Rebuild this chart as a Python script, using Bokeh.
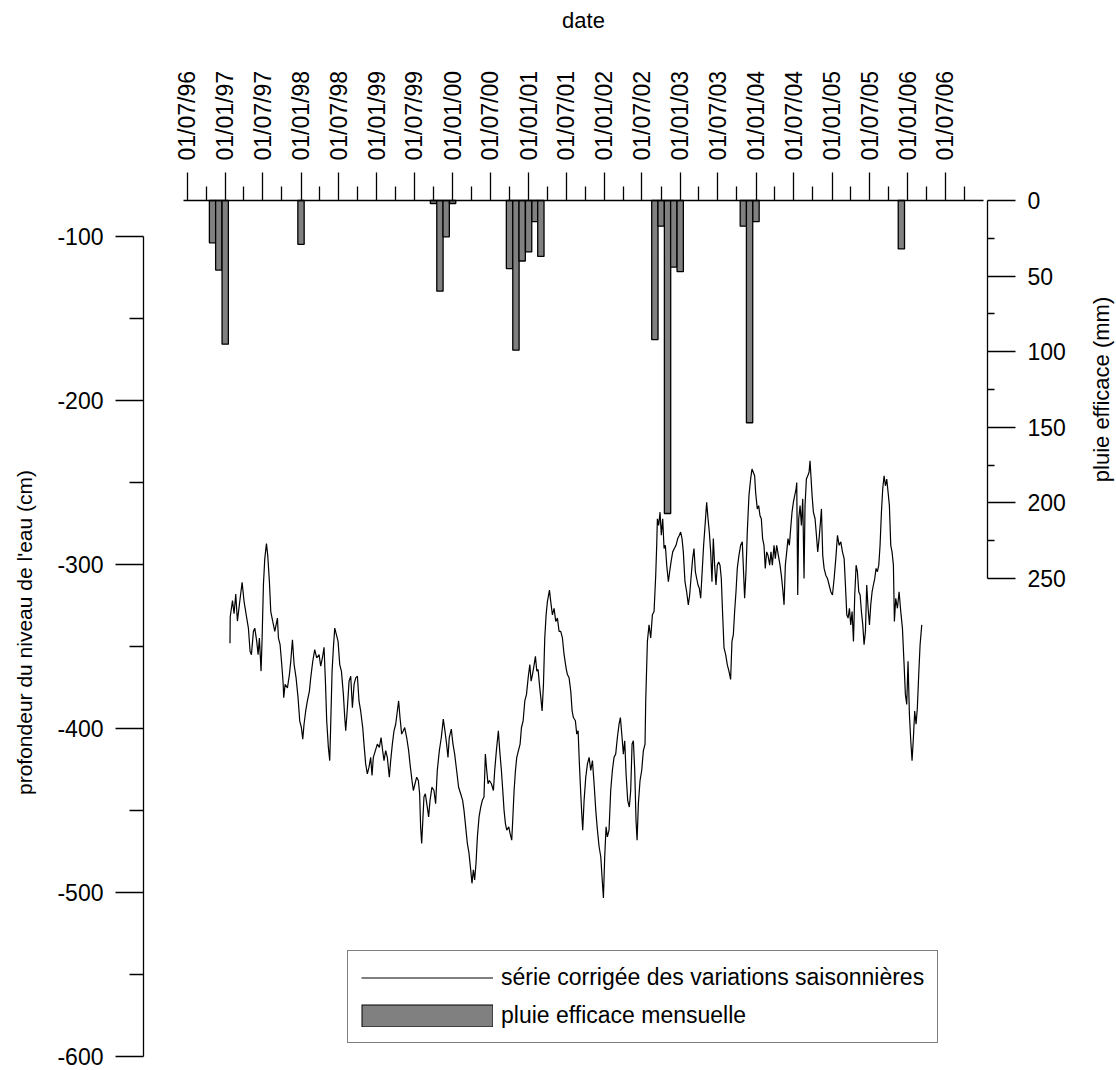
import math
from datetime import datetime, timedelta

from bokeh.embed import file_html
from bokeh.models import (ColumnDataSource, DatetimeAxis, DatetimeTickFormatter, FixedTicker,
                          Label, Legend, LegendItem, LinearAxis, Range1d)
from bokeh.plotting import figure
from bokeh.resources import INLINE

# --- water level, seasonally adjusted (decimal year, depth in cm) ---
level_year = [
    1997.063, 1997.066, 1997.096, 1997.117, 1997.139, 1997.161, 1997.197, 1997.223, 1997.249, 1997.284,
    1997.306, 1997.328, 1997.346, 1997.372, 1997.390, 1997.416, 1997.434, 1997.451, 1997.473, 1997.487,
    1997.504, 1997.522, 1997.544, 1997.561, 1997.583, 1997.601, 1997.627, 1997.654, 1997.671, 1997.689,
    1997.702, 1997.724, 1997.746, 1997.764, 1997.772, 1997.790, 1997.821, 1997.847, 1997.865, 1997.887,
    1997.909, 1997.935, 1997.961, 1997.983, 1998.005, 1998.023, 1998.040, 1998.062, 1998.084, 1998.111,
    1998.128, 1998.155, 1998.181, 1998.207, 1998.238, 1998.260, 1998.282, 1998.304, 1998.322, 1998.339,
    1998.361, 1998.379, 1998.392, 1998.410, 1998.427, 1998.445, 1998.467, 1998.489, 1998.511, 1998.533,
    1998.559, 1998.577, 1998.590, 1998.612, 1998.634, 1998.656, 1998.678, 1998.700, 1998.722, 1998.744,
    1998.765, 1998.787, 1998.814, 1998.831, 1998.853, 1998.875, 1998.897, 1998.919, 1998.937, 1998.954,
    1998.981, 1999.007, 1999.034, 1999.056, 1999.077, 1999.095, 1999.117, 1999.139, 1999.165, 1999.183,
    1999.205, 1999.227, 1999.249, 1999.271, 1999.288, 1999.306, 1999.328, 1999.350, 1999.368, 1999.394,
    1999.420, 1999.438, 1999.464, 1999.482, 1999.504, 1999.526, 1999.548, 1999.565, 1999.578, 1999.592,
    1999.605, 1999.622, 1999.640, 1999.666, 1999.684, 1999.702, 1999.728, 1999.754, 1999.776, 1999.798,
    1999.825, 1999.851, 1999.877, 1999.899, 1999.921, 1999.939, 1999.956, 1999.983, 2000.005, 2000.027,
    2000.053, 2000.079, 2000.106, 2000.132, 2000.150, 2000.172, 2000.194, 2000.216, 2000.238, 2000.255,
    2000.273, 2000.290, 2000.308, 2000.326, 2000.348, 2000.370, 2000.391, 2000.413, 2000.431, 2000.449,
    2000.466, 2000.484, 2000.510, 2000.537, 2000.554, 2000.576, 2000.602, 2000.620, 2000.642, 2000.660,
    2000.677, 2000.695, 2000.712, 2000.739, 2000.756, 2000.778, 2000.791, 2000.809, 2000.827, 2000.844,
    2000.866, 2000.888, 2000.906, 2000.928, 2000.950, 2000.972, 2000.994, 2001.016, 2001.033, 2001.051,
    2001.073, 2001.090, 2001.108, 2001.125, 2001.143, 2001.161, 2001.178, 2001.196, 2001.213, 2001.231,
    2001.248, 2001.275, 2001.292, 2001.314, 2001.336, 2001.358, 2001.380, 2001.402, 2001.424, 2001.446,
    2001.468, 2001.494, 2001.512, 2001.534, 2001.556, 2001.574, 2001.591, 2001.617, 2001.635, 2001.653,
    2001.670, 2001.688, 2001.701, 2001.714, 2001.732, 2001.754, 2001.776, 2001.798, 2001.820, 2001.842,
    2001.864, 2001.886, 2001.908, 2001.930, 2001.952, 2001.974, 2001.987, 2002.004, 2002.022, 2002.039,
    2002.061, 2002.083, 2002.105, 2002.127, 2002.149, 2002.171, 2002.193, 2002.211, 2002.233, 2002.250,
    2002.268, 2002.286, 2002.307, 2002.329, 2002.347, 2002.365, 2002.382, 2002.400, 2002.417, 2002.431,
    2002.448, 2002.470, 2002.492, 2002.514, 2002.536, 2002.545, 2002.567, 2002.589, 2002.611, 2002.633,
    2002.655, 2002.677, 2002.690, 2002.699, 2002.716, 2002.734, 2002.751, 2002.769, 2002.787, 2002.804,
    2002.822, 2002.844, 2002.861, 2002.879, 2002.901, 2002.923, 2002.945, 2002.967, 2002.989, 2003.006,
    2003.024, 2003.041, 2003.063, 2003.085, 2003.107, 2003.125, 2003.142, 2003.164, 2003.182, 2003.200,
    2003.217, 2003.235, 2003.252, 2003.270, 2003.292, 2003.309, 2003.331, 2003.349, 2003.367, 2003.384,
    2003.402, 2003.419, 2003.437, 2003.454, 2003.472, 2003.490, 2003.507, 2003.525, 2003.542, 2003.560,
    2003.578, 2003.600, 2003.621, 2003.643, 2003.665, 2003.683, 2003.701, 2003.718, 2003.736, 2003.753,
    2003.775, 2003.797, 2003.819, 2003.832, 2003.850, 2003.868, 2003.885, 2003.907, 2003.929, 2003.947,
    2003.964, 2003.982, 2003.995, 2004.017, 2004.035, 2004.052, 2004.070, 2004.087, 2004.105, 2004.122,
    2004.140, 2004.158, 2004.180, 2004.197, 2004.215, 2004.237, 2004.254, 2004.272, 2004.294, 2004.316,
    2004.333, 2004.355, 2004.369, 2004.386, 2004.404, 2004.421, 2004.439, 2004.456, 2004.474, 2004.492,
    2004.509, 2004.527, 2004.536, 2004.549, 2004.562, 2004.580, 2004.597, 2004.615, 2004.632, 2004.645,
    2004.663, 2004.681, 2004.698, 2004.711, 2004.725, 2004.738, 2004.755, 2004.777, 2004.795, 2004.812,
    2004.830, 2004.848, 2004.861, 2004.878, 2004.896, 2004.918, 2004.940, 2004.962, 2004.984, 2005.006,
    2005.028, 2005.050, 2005.072, 2005.094, 2005.116, 2005.138, 2005.160, 2005.177, 2005.195, 2005.212,
    2005.230, 2005.247, 2005.265, 2005.283, 2005.300, 2005.318, 2005.335, 2005.353, 2005.371, 2005.388,
    2005.406, 2005.423, 2005.441, 2005.458, 2005.476, 2005.494, 2005.511, 2005.529, 2005.546, 2005.564,
    2005.581, 2005.599, 2005.617, 2005.634, 2005.652, 2005.669, 2005.687, 2005.705, 2005.722, 2005.740,
    2005.757, 2005.775, 2005.792, 2005.810, 2005.823, 2005.841, 2005.863, 2005.885, 2005.907, 2005.929,
    2005.951, 2005.968, 2005.986, 2006.003, 2006.021, 2006.039, 2006.056, 2006.074, 2006.091, 2006.109,
    2006.126, 2006.144, 2006.162, 2006.184,
]
level_cm = [
    -348, -332, -322, -330, -318, -334.5, -320.6, -310.9, -322.6, -332.7,
    -338.8, -352.9, -355, -340.8, -338.8, -346.9, -355, -344.8, -365, -344.8,
    -312.5, -296.4, -287.3, -294.4, -310.5, -328.7, -334.7, -340.8, -336.8, -332.7,
    -344.8, -348.9, -361, -372.1, -381.2, -373.1, -375.2, -367.1, -359, -345.9,
    -361, -369.1, -381.2, -395.3, -399.4, -406.5, -397.4, -389.3, -383.2, -377.2,
    -369.1, -359, -351.9, -357, -355, -362, -357, -350.5, -371.1, -395.3,
    -411.5, -419.6, -397.4, -365, -350.9, -338.8, -342.8, -346.9, -361, -365,
    -379.2, -393.3, -401.4, -387.3, -371.1, -368.1, -387.3, -373.1, -369.1, -368.1,
    -383.2, -389.3, -399.4, -409.5, -421.6, -427.7, -423.6, -417.6, -428.7, -417.6,
    -413.5, -409.5, -411.5, -405.5, -413.5, -419.6, -413.5, -417.6, -429.7, -419.6,
    -409.5, -401.4, -397.4, -389.3, -383.2, -393.3, -403.4, -401.4, -399.4, -405.5,
    -413.5, -421.6, -431.7, -437.8, -433.7, -429.7, -431.7, -439.8, -460, -470.1,
    -458, -441.8, -439.8, -447.9, -453.9, -443.8, -435.8, -437.8, -445.9, -425.6,
    -413.5, -405.5, -394.3, -401.4, -409.5, -417.6, -405.5, -400.4, -409.5, -415.6,
    -425.6, -435.8, -439.8, -443.8, -449.9, -460, -470.1, -476.2, -486.2, -494.4,
    -486.2, -492.3, -482.2, -466.1, -453.9, -447.9, -443.8, -441.8, -415.6, -425.6,
    -433.7, -431.7, -433.7, -437.8, -425.6, -413.5, -401.4, -413.5, -425.6, -437.8,
    -449.9, -458, -462, -460, -464, -468.1, -456, -437.8, -425.6, -417.6,
    -413.5, -409.5, -399.4, -395.3, -383.2, -379.2, -369.1, -361, -371.1, -367.1,
    -361, -356, -365, -364, -373.1, -381.2, -389.3, -373.1, -344.8, -330.7,
    -322.6, -315.6, -322.6, -330.7, -326.7, -334.7, -332.7, -340.8, -340.8, -344.8,
    -355, -363, -367.1, -369.1, -377.2, -389.3, -393.3, -395.3, -403.4, -401.4,
    -421.6, -439.8, -451.9, -462, -443.8, -429.7, -421.6, -417.6, -425.6, -419.6,
    -433.7, -449.9, -462, -472.1, -478.2, -494.4, -503.4, -478.2, -460, -466.1,
    -462, -437.8, -425.6, -417.6, -415.6, -405.5, -397.4, -393.3, -405.5, -415.6,
    -407.5, -427.7, -443.8, -447.9, -437.8, -409.5, -407.5, -425.6, -456, -468.1,
    -445.9, -431.7, -425.6, -413.5, -409.5, -383.2, -346.9, -336.8, -344.8, -330.7,
    -328.7, -306.5, -288.3, -272.1, -276.2, -268.1, -282.2, -272.1, -290.3, -288.3,
    -300.4, -310.5, -304.4, -298.4, -292.3, -290.3, -288.3, -284.2, -282.2, -280.2,
    -284.2, -292.3, -310.5, -316.6, -324.6, -318.6, -308.5, -296.4, -290.3, -304.4,
    -308.5, -312.5, -314.5, -320.6, -302.4, -288.3, -274.1, -262, -272.1, -280.2,
    -292.3, -310.5, -284.2, -300.4, -312.5, -300.4, -298.4, -300.4, -308.5, -330.7,
    -350.9, -355, -361, -365, -370.1, -346.9, -342.8, -328.7, -316.6, -302.4,
    -294.4, -288.3, -286.2, -300.4, -320.6, -304.4, -280.2, -258, -247.9, -241.8,
    -243.8, -245.9, -256, -266.1, -264.1, -270.1, -272.1, -284.2, -288.3, -302.4,
    -292.3, -294.4, -300.4, -292.3, -300.4, -288.3, -296.4, -288.3, -294.4, -300.4,
    -306.5, -316.6, -324.6, -300.4, -292.3, -284.2, -288.3, -278.2, -268.1, -262,
    -258, -254, -250, -318.6, -272.1, -264.1, -276.2, -260, -308.5, -264.1,
    -247.9, -245.9, -243.8, -236.8, -247.9, -258, -268.1, -272.1, -282.2, -292.3,
    -284.2, -274.1, -266.1, -294.4, -302.4, -306.5, -308.5, -312.5, -316.6, -318.6,
    -308.5, -296.4, -282.2, -288.3, -286.2, -292.3, -296.4, -312.5, -330.7, -332.7,
    -326.7, -336.8, -328.7, -346.9, -318.6, -300.4, -304.4, -316.6, -318.6, -328.7,
    -336.8, -348.9, -340.8, -312.5, -326.7, -336.8, -324.6, -316.6, -312.5, -308.5,
    -302.4, -304.4, -300.4, -288.3, -268.1, -254, -245.9, -252, -247.9, -256,
    -264.1, -288.3, -292.3, -300.4, -334.7, -320.6, -326.7, -316.6, -328.7, -338.8,
    -361, -379.2, -385.3, -359, -391.3, -407.5, -419.6, -405.5, -389.3, -397.4,
    -387.3, -367.1, -348.9, -336.8,
]

# --- monthly effective rainfall (month, mm) ---
rain_month = [
    "1996-11", "1996-12", "1997-01", "1998-01",
    "1999-10", "1999-11", "1999-12", "2000-01",
    "2000-10", "2000-11", "2000-12", "2001-01", "2001-02", "2001-03",
    "2002-09", "2002-10", "2002-11", "2002-12", "2003-01",
    "2003-11", "2003-12", "2004-01", "2005-12",
]
rain_mm = [
    28, 46, 95, 29,
    2, 60, 24, 2,
    45, 99, 40, 34, 14, 37,
    92, 17, 207, 44, 47,
    17, 147, 14, 32,
]

# --- axis ticks ---
date_tick_labels = [
    "01/07/96", "01/01/97", "01/07/97", "01/01/98", "01/07/98", "01/01/99", "01/07/99",
    "01/01/00", "01/07/00", "01/01/01", "01/07/01", "01/01/02", "01/07/02", "01/01/03",
    "01/07/03", "01/01/04", "01/07/04", "01/01/05", "01/07/05", "01/01/06", "01/07/06",
]
date_minor_labels = [
    "01/10/96", "01/04/97", "01/10/97", "01/04/98", "01/10/98", "01/04/99", "01/10/99",
    "01/04/00", "01/10/00", "01/04/01", "01/10/01", "01/04/02", "01/10/02", "01/04/03",
    "01/10/03", "01/04/04", "01/10/04", "01/04/05", "01/10/05", "01/04/06", "01/10/06",
]
depth_ticks = [-600, -500, -400, -300, -200, -100]
depth_minor = [-550, -450, -350, -250, -150]
rain_ticks = [0, 50, 100, 150, 200, 250]
rain_minor = [25, 75, 125, 175, 225]

FONT = "Liberation Sans"
DAY_MS = 24 * 3600 * 1000
BAR_GREY = "#808080"
W, H = 1116, 1070

# --- page geometry: the plot area covers the whole page, axes sit at fixed spots ---
PX_PER_YEAR = 75.85                       # horizontal scale of the date axis
X_ORIGIN = datetime(1996, 7, 1) - timedelta(days=365.25 * 186.5 / PX_PER_YEAR)
PX_PER_CM = 1.64                          # depth scale (left axis)
PX_PER_MM = 1.512                         # rainfall scale (right axis)
AXIS_LEFT_PX, AXIS_RIGHT_PX, AXIS_TOP_PX = 143, 987, 200


def x_at(px):
    return X_ORIGIN + timedelta(days=365.25 * px / PX_PER_YEAR)


def depth_at(py):
    return -100 - (py - 236) / PX_PER_CM


def rain_at(py):
    return (py - AXIS_TOP_PX) / PX_PER_MM


def from_decimal_year(y):
    yr = int(y)
    start, end = datetime(yr, 1, 1), datetime(yr + 1, 1, 1)
    return start + (end - start) * (y - yr)


def to_ms(d):
    return (d - datetime(1970, 1, 1)).total_seconds() * 1000.0


level_dates = [from_decimal_year(y) for y in level_year]
level_src = ColumnDataSource(data=dict(date=level_dates, depth=level_cm))
rain_src = ColumnDataSource(data=dict(
    date=[datetime.strptime(m + "-01", "%Y-%m-%d") for m in rain_month], mm=rain_mm))

p = figure(
    width=W, height=H,
    x_range=Range1d(x_at(0), x_at(W)),
    y_range=Range1d(depth_at(H), depth_at(0)),
    x_axis_type=None, y_axis_type=None,
    output_backend="svg", toolbar_location=None, min_border=0,
)
p.outline_line_color = None
p.background_fill_color = "white"
p.border_fill_color = "white"

p.extra_y_ranges = {"rain": Range1d(start=rain_at(H), end=rain_at(0))}

# rainfall bars hanging from the top axis
bars = p.vbar(x="date", width=30.4 * DAY_MS, bottom=0, top="mm", y_range_name="rain",
              source=rain_src, fill_color=BAR_GREY, line_color="black", line_width=1.3)
# water level series
line = p.line(x="date", y="depth", source=level_src, line_color="black", line_width=1.2)

# legend swatch for the bars: a framed grey block as wide as the line sample
one_date, one_depth = level_dates[:1], level_cm[:1]
swatch_edge = p.line(x=one_date, y=one_depth, line_color="black", line_width=23,
                     line_cap="butt")
swatch_fill = p.line(x=one_date, y=one_depth, line_color=BAR_GREY, line_width=21,
                     line_cap="butt", line_dash="0 1 130 1")


def style_axis(ax):
    ax.axis_line_color = "black"
    ax.axis_line_width = 1.3
    ax.major_tick_line_color = "black"
    ax.major_tick_line_width = 1.3
    ax.minor_tick_line_color = "black"
    ax.minor_tick_line_width = 1.3
    ax.major_tick_in = 0
    ax.minor_tick_in = 0
    ax.major_tick_out = 28
    ax.minor_tick_out = 14
    ax.major_label_text_font = FONT
    ax.major_label_text_font_size = "23px"
    ax.major_label_text_color = "black"
    ax.major_label_standoff = 12


# date axis on top
fmt = "%d/%m/%y"
xax = DatetimeAxis(
    ticker=FixedTicker(
        ticks=[to_ms(datetime.strptime(s, "%d/%m/%y")) for s in date_tick_labels],
        minor_ticks=[to_ms(datetime.strptime(s, "%d/%m/%y")) for s in date_minor_labels]),
    formatter=DatetimeTickFormatter(days=fmt, months=fmt, years=fmt, hours=fmt,
                                    hourmin=fmt, minutes=fmt, context=None),
    fixed_location=depth_at(AXIS_TOP_PX),
    bounds=(x_at(183), x_at(983)),
)
style_axis(xax)
xax.major_label_orientation = math.pi / 2
p.add_layout(xax, "above")

# depth axis on the left
yax = LinearAxis(
    ticker=FixedTicker(ticks=depth_ticks, minor_ticks=depth_minor),
    major_label_overrides={t: str(t) for t in depth_ticks},
    fixed_location=to_ms(x_at(AXIS_LEFT_PX)),
    bounds=(-600, -100),
)
style_axis(yax)
p.add_layout(yax, "left")

# rainfall axis on the right
rax = LinearAxis(
    y_range_name="rain",
    ticker=FixedTicker(ticks=rain_ticks, minor_ticks=rain_minor),
    fixed_location=to_ms(x_at(AXIS_RIGHT_PX)),
    bounds=(0, 250),
)
style_axis(rax)
rax.minor_tick_out = 7
p.add_layout(rax, "right")

# axis titles
title_style = dict(x_units="screen", y_units="screen", text_font=FONT,
                   text_font_size="22px", text_color="black",
                   text_align="center", text_baseline="middle")
p.add_layout(Label(x=583, y=H - 20, text="date", **title_style))
p.add_layout(Label(x=24, y=H - 632, text="profondeur du niveau de l'eau (cm)",
                   angle=math.pi / 2, **dict(title_style, text_font_size="21px")))
p.add_layout(Label(x=1101, y=H - 389, text="pluie efficace (mm)", angle=math.pi / 2,
                   **title_style))

legend = Legend(items=[
    LegendItem(label="série corrigée des variations saisonnières", renderers=[line]),
    LegendItem(label="pluie efficace mensuelle", renderers=[swatch_edge, swatch_fill]),
], location=(347, H - 1043))
legend.border_line_color = "black"
legend.border_line_width = 1
legend.background_fill_color = "white"
legend.background_fill_alpha = 1
legend.label_text_font = FONT
legend.label_text_font_size = "23px"
legend.label_text_color = "black"
legend.glyph_width = 132
legend.glyph_height = 23
legend.label_height = 23
legend.label_standoff = 8
legend.spacing = 11
legend.padding = 13
legend.margin = 0
p.add_layout(legend)

open("out.html", "w").write(file_html(p, INLINE))
